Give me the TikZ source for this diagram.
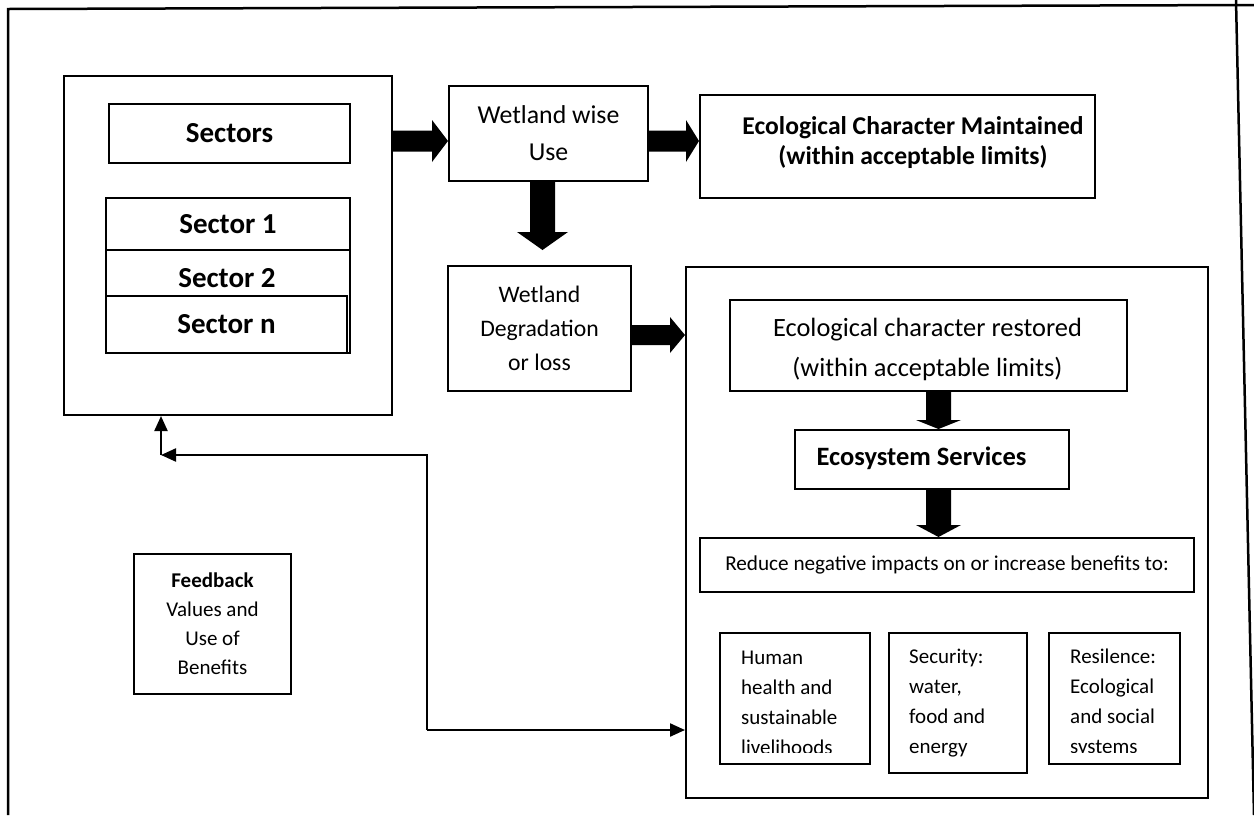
\documentclass[tikz,border=0pt]{standalone}
\usepackage{fontspec}
\setmainfont{Carlito}
\usetikzlibrary{calc,arrows.meta}
\newcommand{\fs}[2]{\fontsize{#1}{#2}\selectfont}
\newcommand{\fatRight}[5]{\fill ($(#1 |- #2)+(0,-#3)$) -- ($(#2)+(-#5,-#3)$) -- ($(#2)+(-#5,-#4)$) -- (#2) -- ($(#2)+(-#5,#4)$) -- ($(#2)+(-#5,#3)$) -- ($(#1 |- #2)+(0,#3)$) -- cycle;}
\newcommand{\fatDown}[5]{\fill ($(#2 |- #1)+(-#3,0)$) -- ($(#2)+(-#3,-#5)$) -- ($(#2)+(-#4,-#5)$) -- (#2) -- ($(#2)+(#4,-#5)$) -- ($(#2)+(#3,-#5)$) -- ($(#2 |- #1)+(#3,0)$) -- cycle;}
\begin{document}
\begin{tikzpicture}[x=1pt,y=-1pt,
  box/.style={draw, line width=2pt, inner sep=0pt, align=center, anchor=north west},
  txt/.style={inner sep=0pt, align=center},
  ltxt/.style={inner sep=0pt, align=left, anchor=west, font=\fs{21}{30}},
  arr/.style={line width=2.2pt, -{Triangle[length=15pt,width=13pt]}},
  big/.style={font=\bfseries\fs{29}{35}}]
\useasboundingbox (0,0) rectangle (1254,815);
\fill[white] (0,0) rectangle (1254,815);
% outer frame
\draw[line width=2.5pt] (8,815) -- (8,9) -- (1254,5);
\draw[line width=2.5pt] (1236,0) -- (1254,815);
% left block
\node[box, minimum width=328pt, minimum height=339pt] (L) at (63,75) {};
\node[box, big, minimum width=241pt, minimum height=59pt] (sec) at (108,103) {Sectors};
\node[box, big, minimum width=244pt, minimum height=52pt] (s1) at (105,197) {Sector 1};
\node[box, minimum width=244pt, minimum height=103pt] (s2) at (105,249) {};
\node[txt, big] (s2t) at (227,278) {Sector 2};
\node[box, big, fill=white, minimum width=241pt, minimum height=57pt] (sn) at (105,295) {Sector n};
% middle column
\node[box, font=\fs{25.8}{37}, minimum width=199pt, minimum height=95pt] (wise) at (448,85) {Wetland wise\\Use};
\node[box, font=\fs{23.7}{34}, minimum width=183pt, minimum height=125pt] (deg) at (447,265) {Wetland\\Degradation\\or loss};
% ECM
\node[box, minimum width=395pt, minimum height=103pt] (ecm) at (699,94) {};
\node[txt, font=\bfseries\fs{25.6}{30}] (ecmt) at (913,143) {Ecological Character Maintained\\(within acceptable limits)};
% right block
\node[box, minimum width=522pt, minimum height=531pt] (R) at (685,266) {};
\node[box, minimum width=397pt, minimum height=91pt] (eco) at (729,299) {};
\node[txt, font=\fs{26.4}{40}] (ecot) at (927.5,349) {Ecological character restored\\(within acceptable limits)};
\node[box, minimum width=274pt, minimum height=59pt] (es) at (794,429) {};
\node[txt, font=\bfseries\fs{26.5}{32}] (est) at (921.5,458) {Ecosystem Services};
\node[box, font=\fs{21.2}{30}, minimum width=494pt, minimum height=54pt] (red) at (699,537) {Reduce negative impacts on or increase benefits to:};
\node[box, minimum width=150pt, minimum height=131pt] (hb) at (719,632) {};
\node[box, minimum width=138pt, minimum height=140pt] (sb) at (888,632) {};
\node[box, minimum width=131pt, minimum height=131pt] (rb) at (1048,632) {};
\begin{scope}
\clip (719,632) rectangle (869,752);
\node[ltxt] (ht) at (741,703) {Human\\health and\\sustainable\\livelihoods};
\end{scope}
\node[ltxt] (st) at (909,703) {Security:\\water,\\food and\\energy};
\begin{scope}
\clip (1048,632) rectangle (1179,752);
\node[ltxt] (rt) at (1070,703) {Resilence:\\Ecological\\and social\\systems};
\end{scope}
% feedback
\node[box, font=\fs{21}{29}, minimum width=157pt, minimum height=140pt] (fb) at (133,553) {\textbf{Feedback}\\Values and\\Use of\\Benefits};
% fat arrows
\coordinate (a1) at (wise.west |- 0,141);
\fatRight{L.east}{a1}{10.5}{21}{16}
\coordinate (a2) at (ecm.west |- 0,141);
\fatRight{wise.east}{a2}{10.5}{21}{13}
\coordinate (a3) at (542.5,250);
\fatDown{wise.south}{a3}{12.5}{25.5}{18}
\coordinate (a4) at (R.west |- 0,335);
\fatRight{deg.east}{a4}{10}{18}{15}
\coordinate (a5) at (es.north -| 938.5,0);
\fatDown{eco.south}{a5}{12.5}{22.5}{9}
\coordinate (a6) at (red.north -| 938.5,0);
\fatDown{es.south}{a6}{12.5}{22.5}{12}
% feedback connectors
\coordinate (fbA) at (161,455);
\coordinate (fbB) at (427,455);
\coordinate (fbC) at (427,730);
\draw[arr] (fbA) -- (fbA |- L.south);
\draw[arr] (fbC) -- (fbC -| R.west);
\draw[arr] (fbC) -- (fbB) -- (fbA);
\end{tikzpicture}
\end{document}
